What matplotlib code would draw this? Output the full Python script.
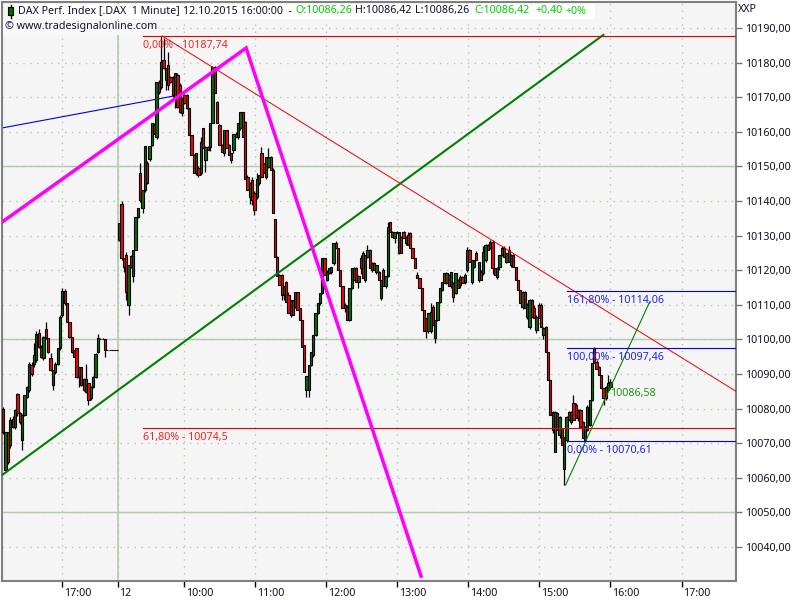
import numpy as np
import matplotlib
matplotlib.use("Agg")
import matplotlib.pyplot as plt
import matplotlib.transforms as mtrans
from matplotlib.patches import Rectangle
from matplotlib.ticker import FuncFormatter

plt.rcParams['font.family'] = ['Noto Sans', 'DejaVu Sans']
BASE = 10000

# previous session: open, high, low, close (points above BASE)
day1_o = [80,62.2,73.3,69.5,77,74.7,84.2,78.6,70.9,78.1,83.4,85.3,92.5,93,94,102,97.9,94.5,102.9,100.3,94.5,86.8,90.6,93,97.4,107,114,110.4,105.1,100.7,96.9,97.4,89.2,91.9,88.7,84.9,87.3,83,86.3,89.2,96.4,100,100,100.1,97,97,97,97,97]
day1_h = [80.5,73.3,73.3,77.6,78,80,84.5,79,78.5,84,86.5,93.5,93.5,99,102.5,103,98.5,101,105,100.5,96,91.1,93.5,97.5,107,115,114.5,110.5,105.1,100.7,97,97.5,92,92,89,92.8,87.5,86.5,89.5,96,101.5,100.5,100.5,100.1,97,97,97,97,97]
day1_l = [72.8,61.7,64,68.5,74.5,74,78,75.5,68,77.9,83,84.8,89.5,92,93.5,97.5,94.5,94,100,96,90.8,85.3,90,92.5,97,106.5,110,105,100.5,96,94.8,89,86.3,86.5,85,84.5,81,82.5,86,89,96,100,100,95,97,97,97,97,97]
day1_c = [73.3,73.3,64.7,76.7,74.7,79.6,78.6,76.2,78.1,83.9,86.3,93,90.1,95.4,101.7,97.9,95,100.7,100.3,96.4,91.1,91.1,93,97.4,106.5,114,110.4,105.1,100.7,96.4,95,89.2,91.9,86.8,85.3,88.7,82.4,86.3,89.2,95.9,100.3,100,100,97,97,97,97,97,97]

# morning of the 12th
am_o = [128.8,139.2,123.5,124.4,110,124.2,118.2,125.9,135.3,148,137.9,143.2,150.9,152,156.2,162,158.6,174.5,173,180.7,175,179.3,175.9,175.4,169.2,176.4,173.5,165.3,170.6,170.6,166.8,159,153.3,148,149.4,148,161,151.8,155.7,155.7,162.4,178.8,168.7,162,156.2,153.8,160.5,156.2,153.8,154.7,159.5,158.6,161,165.8,162.9,147,141.2,146,142.2,141.2,145.1,153.8,150.9,147,149.9,152.8,149]
am_h = [133.6,139.9,123.5,125.4,121.5,124.5,125.9,135.4,138.1,150.9,143.2,155.9,151.5,156,162.4,162.4,174.5,175,187.7,187,178.5,183,176,176,177,176.9,174,170,171,171,167,159,153.5,153.8,150,158.6,161,155.9,155.9,162.4,178.9,178.9,169,162.2,156.5,160.5,160.5,156.5,154,159.5,160,162.4,165.8,165.8,163,147.5,145.5,147,143,148,147.5,155.5,151,152.8,155.2,153,149.5]
am_l = [128.5,123,119.6,111.5,107.1,120.5,116.7,125.9,135,139.8,136.4,142.5,145,151.5,156,159.5,158,171,172.5,178,172,172,174,170,167,167,165.5,164.5,168,166.5,159,153.3,148,147.5,147,147.5,155.2,148.5,154.7,154.5,162.4,171.1,162.4,156.2,154.2,153,155.2,153.3,151,154,158.6,158,160.5,158.6,146.5,143.2,139,138.8,135.9,140.5,144.5,147,148,146.5,149.5,149,136.4]
am_c = [133.6,123.5,120.9,113.8,121.5,120.9,125.9,135.3,138,140.3,143.2,155.9,145.1,155.9,162.4,159.5,174.5,171.6,180.2,178.3,178.3,173.5,174.5,170.6,176.9,167.2,165.8,169.6,168.2,166.8,159,153.3,148,153.8,147.5,157.1,155.2,155.7,154.7,162.4,178.8,171.1,162.4,156.2,154.2,160.5,155.2,153.3,151.8,159.5,158.6,162.4,165.8,158.6,146.5,143.2,145.1,140.3,137.4,146.5,147.5,147,148,152.8,152.8,149,136.4]

# midday
mid_o = [134.7,123.9,118.6,118.6,112.9,116.7,112.9,107.1,111.4,109.5,113.8,109,105.6,98.4,85.4,85.4,92.6,95.5,101.3,107.6,110.4,113.3,123.4,117.2,119.1,119.6,122,127.8,126.3,120.1,115.3,109,109.5,105.6,114.8,120.6,120.6,116.7,120.6,124.9,117.2,123.9,125.8,120.1,122,119.6,119.6,112,120.1,115.3,118.2,133.8,131.1,129.2,131.1,124.9,129.7,131.1,127.8,130.2,130.7,126.3,123.4,118.6,117.7,114.8,108.5,106.1,102.3,102.3,109.5,100.3,105.6,110.9,114.3,119.1,116.2,118.6,115.3,116.2,113.3,117.2]
mid_h = [134.7,124,118.8,118.8,115.5,117,113.8,111.4,111.4,113.8,113.8,109,105.6,98.4,89.5,92.6,96.5,101.3,107.6,110.4,113.3,123.4,123.5,120,120.6,121,127.8,128.5,126.3,120.1,115.3,110.5,110,114.8,120.6,120.8,120.8,118.5,124.5,125.5,124.5,127.3,126,122.5,122.5,121.5,119.8,117.2,120.5,118.2,134,134,131.2,131,131.2,131.1,130,131.3,130,131,131,126.3,123.4,119.5,117.7,114.8,108.5,106.2,107.6,110.4,110,105.6,110.9,114.8,116.7,119.3,119.5,119,119.6,116.5,119.1,117.5]
mid_l = [123.9,118.2,115.7,111.4,111.5,110.9,107.6,106.6,107.1,109,108.5,105.6,97.9,90.7,83.5,83.5,92.3,95,101,107.3,110,113,118.6,116.8,118.8,119,121.5,126.3,120.1,115.3,109,108,105.6,105.4,114.5,117.2,116.7,115,119,117.7,116.5,123.5,120.6,119.5,120,119,117.2,111.4,115.3,114.8,118,131.1,129.7,128,130.7,124.8,124.9,129.2,127.3,127.3,126.3,123.4,120.6,117.7,114.8,108.5,102.3,100.3,102,102,104.2,98.9,105.3,110.6,114,116.2,116,115.3,115,110.9,113,114.8]
mid_c = [123.9,118.2,115.7,112.9,115.4,110.9,107.6,111.4,107.1,113.8,108.5,105.6,97.9,90.7,89.3,92.6,96.5,101.3,107.6,110.4,113.3,123.4,118.6,119.6,120.6,121,127.8,126.3,120.1,115.3,109,110,105.6,114.8,120.6,117.2,116.7,118.2,123.4,117.7,124.4,125.8,120.6,122,120.1,121.5,117.2,117.2,115.3,118.2,132.6,131.1,129.7,131.1,130.7,131.1,124.9,129.2,129.7,127.3,126.3,123.4,120.6,117.7,114.8,108.5,102.3,102.3,107.6,108,104.2,105.6,110.9,114.8,116.7,116.2,119.1,115.3,119.6,112.4,119.1,114.8]

# afternoon
pm_o = [115.7,118.1,116.7,120,125.8,116.7,121,124.9,117.2,119.6,119.1,122.9,127.3,126.3,128.2,120.5,118.1,121,124.4,126.3,122.5,125.8,121.5,124.4,121,117.2,114.3,109.5,113.8,106.6,103.7,111.4,109,102.7,110,110,101.3,103.7,96.4,88.3,73.8,67.6,78.6,72.4,74.3,62.7,71,79.1,76.2,81.5,81,77.2,79.6,76.2,71,73.8,75.3,82.5,97.4,93.6,92.1,89.7,85.9,83,85.4,86.3]
pm_h = [118.5,118.3,119.2,126.8,126,123,123,125.5,122.5,120,127,127.5,127.5,128.8,128.8,120.5,121,124.4,127,127,125,127,124.7,124.7,121,117.2,114.3,114,114,110.5,111.6,111.6,110,107,110.4,110.4,103.5,104,96.4,88.3,79.2,79.2,79,77.8,74.5,71.9,77.9,79.2,79.2,84,81.5,80,80,76.5,75,81,82.5,93.2,97.8,94,92.3,89.7,86,86.5,89.7,88.5]
pm_l = [115,116.2,116,119.5,122.5,116,120.5,122.9,116.5,117.2,118.5,122.5,125.8,126,119,118.6,117.5,120,124,123.9,122,122.5,120.8,121,117.2,114.3,110.4,108.7,109,106,103,106.6,106.1,102,106.1,103.7,100,96.4,88.3,78.2,73,67.4,73.8,71.5,69.5,58,70.5,76.7,75.5,76.7,77.2,76.5,74.8,71.4,70.5,73.5,75,82.3,93.1,91.6,89.7,85.9,81,82.5,85,85.8]
pm_c = [118.1,116.2,118.6,125.8,122.5,122.9,122.9,122.9,122.5,117.2,125.3,127.3,125.8,128.2,120.5,118.6,120.5,124.4,126.3,123.9,124.9,122.5,124.4,121,117.2,114.3,110.4,113.8,109,110,111.4,106.6,106.1,106.6,106.1,103.7,103.2,96.4,88.3,78.2,79.1,79.1,73.8,77.7,69.5,71.9,77.7,76.7,79.1,76.7,77.2,79.6,74.8,71.4,74.8,80.6,82.5,93.1,93.1,91.6,89.7,85.9,83,86.3,87.3,87.8]

# session spans in minutes relative to the "12" marker
spans = [(-97, -1), (1, 131), (132.5, 287), (289, 416)]

tick_minutes = [-47, 0, 56, 116, 176, 236, 296, 356, 416, 476]
tick_labels = ['17:00', '12', '10:00', '11:00', '12:00', '13:00', '14:00', '15:00', '16:00', '17:00']
price_ticks = [10040, 10050, 10060, 10070, 10080, 10090, 10100, 10110, 10120, 10130, 10140, 10150, 10160, 10170, 10180, 10190]
solid_prices = [10050, 10100, 10150]

# trend lines: (minutes, prices)
green_m, green_p = [-98, 410], [10060.8, 10188]
magenta_m, magenta_p = [-98, 108.2, 256], [10133.9, 10184.2, 10031.6]
blue_m, blue_p = [-98, 46.5], [10161.1, 10170.3]
red_m, red_p = [37.2, 521.6], [10187.7, 10085.1]
thin_m, thin_p = [378, 449], [10057.9, 10110.8]

fib_red = [10187.74, 10074.5]
fib_red_txt = ['0,00% - 10187,74', '61,80% - 10074,5']
fib_blue = [10114.06, 10097.46, 10070.61]
fib_blue_txt = ['161,80% - 10114,06', '100,00% - 10097,46', '0,00% - 10070,61']

fig = plt.figure(figsize=(8, 6), dpi=100, facecolor='white')
W, H = 800, 600
ax = fig.add_axes([2/W, 1-581/H, 733.5/W, 579/H], facecolor='#F5F5F5')
XMIN, XMAX = -98, 521.6
ax.set_xlim(XMIN, XMAX)
ax.set_ylim(10030.2, 10197.5)

GRID = '#B5C9B0'
FS = 7.7
ax.set_xticks(tick_minutes)
ax.set_xticklabels(tick_labels, ha='left', fontsize=FS, color='#101020')
ax.set_yticks(price_ticks)
ax.yaxis.tick_right()
ax.yaxis.set_major_formatter(FuncFormatter(lambda v, _: f'{v:.2f}'.replace('.', ',')))
ax.tick_params(axis='y', labelsize=FS, length=4, width=1, color='#707070', pad=3, labelcolor='#101020')
ax.tick_params(axis='x', length=4, width=1, color='black', pad=1)
ax.grid(True, ls=(0, (1, 4)), lw=1, color=GRID, zorder=0)
off = mtrans.ScaledTranslation(1/72, 0, fig.dpi_scale_trans)
for t in ax.get_xticklabels():
    t.set_transform(t.get_transform() + off)
for s in ax.spines.values():
    s.set_color('#808080')
    s.set_linewidth(1.5)
for p in solid_prices:
    ax.axhline(p, color=GRID, lw=1, zorder=1)
ax.axvline(0, color=GRID, lw=1.2, zorder=1)

# lines under candles
ax.plot(blue_m, blue_p, color='#0000E0', lw=0.8, zorder=2)

# candles
opens = np.array(day1_o + am_o + mid_o + pm_o) + BASE
highs = np.array(day1_h + am_h + mid_h + pm_h) + BASE
lows = np.array(day1_l + am_l + mid_l + pm_l) + BASE
closes = np.array(day1_c + am_c + mid_c + pm_c) + BASE
counts = [len(day1_o), len(am_o), len(mid_o), len(pm_o)]
times = np.concatenate([np.linspace(a, b, n) for (a, b), n in zip(spans, counts)])
ups = closes >= opens
ax.vlines(times, lows, highs, color='black', lw=0.9, zorder=3)
ax.bar(times, np.abs(closes-opens), bottom=np.minimum(opens, closes), width=1.9,
       color=np.where(ups, '#007000', '#FF0000'), edgecolor='black', linewidth=0.8, zorder=4)

# trend lines over candles
ax.plot(green_m, green_p, color='#008000', lw=1.5, zorder=5)
ax.plot(magenta_m, magenta_p, color='#FF00FF', lw=2.5, zorder=6, solid_joinstyle='miter')
ax.plot(red_m, red_p, color='#F00000', lw=0.7, zorder=5)
ax.plot(thin_m, thin_p, color='#008000', lw=0.8, zorder=5)

for p, s in zip(fib_red, fib_red_txt):
    ax.plot([21, XMAX], [p, p], color='#E00000', lw=0.8, zorder=5)
    ax.annotate(s, (21, p), xytext=(0, -3), textcoords='offset points', va='top', ha='left',
                fontsize=FS, color='#FF2020', zorder=7)
for p, s in zip(fib_blue, fib_blue_txt):
    ax.plot([379.5, XMAX], [p, p], color='#0000E0', lw=0.8, zorder=5)
    ax.annotate(s, (379.5, p), xytext=(0, -3), textcoords='offset points', va='top', ha='left',
                fontsize=FS, color='#2020FF', zorder=7)
ax.text(416, 10084.5, '10086,58', fontsize=FS, color='#209020', va='center', ha='left', zorder=7)

# header
fig.patches.append(Rectangle((17/W, 1-19/H), 578/W, 15/H, transform=fig.transFigure,
                             facecolor='white', edgecolor='none', zorder=10))
fig.patches.append(Rectangle((3/W, 1-35/H), 147/W, 15/H, transform=fig.transFigure,
                             facecolor='#F8F8F8', edgecolor='none', zorder=10))
fig.add_artist(plt.Line2D([10.5/W, 10.5/W], [1-18/H, 1-5/H], color='black', lw=1, zorder=10.5))
fig.patches.append(Rectangle((8/W, 1-15/H), 5/W, 8/H, transform=fig.transFigure,
                             facecolor='#006400', edgecolor='black', lw=0.8, zorder=11))


def htext(x, s, color='#101030', y=11):
    fig.text(x/W, 1-y/H, s, fontsize=FS, color=color, va='center', ha='left', zorder=12)


htext(18, 'DAX Perf. Index [.DAX  1 Minute]')
htext(183, '12.10.2015 16:00:00  -')
G = '#00D000'
htext(295, 'O:10086,26', G)
htext(355, 'H:10086,42')
htext(415, 'L:10086,26')
htext(474, 'C:10086,42', G)
htext(535, '+0,40', G)
htext(566, '+0%', G)
htext(5, '© www.tradesignalonline.com', y=27)
fig.text(738/W, 1-10/H, 'XXP', fontsize=FS, color='#101030', va='center', ha='left')

fig.savefig('out.png', dpi=100)
